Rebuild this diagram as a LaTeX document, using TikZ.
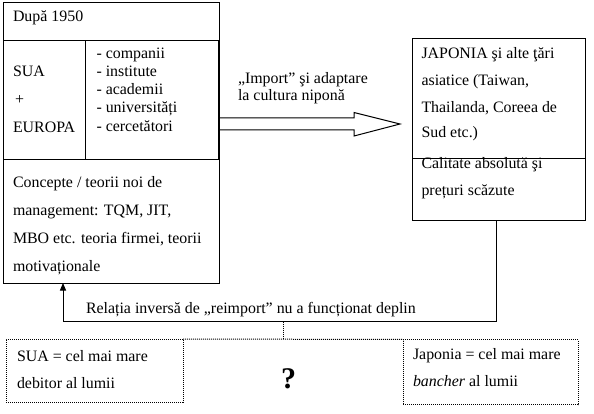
\documentclass[tikz,border=0pt]{standalone}
\usepackage{fontspec}
\setmainfont{Liberation Serif}
\usetikzlibrary{calc,arrows.meta}
\begin{document}
\begin{tikzpicture}[x=1pt,y=-1pt,
  txt/.style={anchor=base west,inner sep=0pt,outer sep=0pt,font=\fontsize{15.9}{18}\selectfont},
  frame/.style={draw,line width=1pt,inner sep=0pt,outer sep=0pt,anchor=north west},
  thickframe/.style={frame,line width=1.7pt},
  dotframe/.style={frame,dash pattern=on 1pt off 1pt},
  dotline/.style={line width=1pt,dash pattern=on 1pt off 1pt},
  thinline/.style={line width=1pt},
  qmark/.style={anchor=base,inner sep=0pt,font=\fontsize{30}{30}\selectfont\bfseries}
]
\useasboundingbox (0,0) rectangle (594,414);

% left block
\node[frame,minimum width=216,minimum height=280] (L) at (3,3) {};
\node[thickframe,minimum width=133.5,minimum height=119] (I) at (85.5,40.5) {};
\coordinate (d1a) at ($(L.north west)+(0,37.5)$);
\draw[thinline] (d1a) -- (I.north west);
\coordinate (d2a) at ($(L.north west)+(0,156.5)$);
\draw[thinline] (d2a) -- (I.south west);

\node[txt] (t0) at (13,22) {După 1950};
\node[txt] (t1) at (13,77) {SUA};
\node[txt] (t2) at (15,104.5) {+};
\node[txt] (t3) at (13,132.5) {EUROPA};
\node[txt] (l1) at (96.5,58.5) {- companii};
\node[txt] (l2) at (96.5,76.5) {- institute};
\node[txt] (l3) at (96.5,94.5) {- academii};
\node[txt] (l4) at (96.5,113) {- universități};
\node[txt] (l5) at (96.5,131.5) {- cercetători};
\node[txt] (c1) at (13,187.5) {Concepte / teorii noi de};
\node[txt] (c2) at (13,215.5) {management: TQM, JIT,};
\node[txt] (c3) at (13,243.5) {MBO etc. teoria firmei, teorii};
\node[txt] (c4) at (13,271) {motivaționale};

% right block
\node[frame,minimum width=173,minimum height=182] (R) at (412,38.5) {};
\coordinate (r1a) at ($(R.north west)+(0,120)$);
\coordinate (r1b) at ($(R.north east)+(0,120)$);
\draw[thinline] (r1a) -- (r1b);
\node[txt] (j1) at (421.5,59) {JAPONIA şi alte ţări};
\node[txt] (j2) at (421.5,86) {asiatice (Taiwan,};
\node[txt] (j3) at (421.5,113) {Thailanda, Coreea de};
\node[txt] (j4) at (421.5,138) {Sud etc.)};
\node[txt] (k1) at (421.5,169) {Calitate absolută şi};
\node[txt] (k2) at (421.5,195.5) {prețuri scăzute};

% big outline arrow
\coordinate (aS) at ($(I.north east)+(0,83.5)$);
\coordinate (aT) at ($(R.north west)+(-12,85.5)$);
\draw[thinline,line join=miter]
  ($(aS)+(0,-6)$) -- ($(aT)+(-46,-6)$) -- ($(aT)+(-46,-11.5)$) -- (aT)
  -- ($(aT)+(-46,12)$) -- ($(aT)+(-46,6)$) -- ($(aS)+(0,6)$);
\node[txt] (m1) at (238,84) {„Import” şi adaptare};
\node[txt] (m2) at (238,101) {la cultura niponă};

% feedback
\coordinate (fb1) at ($(R.south west)+(84,0)$);
\coordinate (fb2) at (496,321.5);
\coordinate (fb3) at (63,321.5);
\coordinate (fb4) at (63,283);
\draw[thinline,-{Triangle[length=7.5pt,width=6pt]}] (fb1) -- (fb2) -- (fb3) -- (fb4);
\node[txt] (fbl) at (86,313) {Relația inversă de „reimport” nu a funcționat deplin};

% bottom boxes
\node[dotframe,minimum width=177,minimum height=63] (D1) at (6,339) {};
\node[dotframe,minimum width=175,minimum height=65] (D2) at (403,339.5) {};
\draw[dotline] (D1.north east) -- (D2.north west);
\coordinate (q0) at (283,321.5);
\coordinate (q1) at (283,339);
\draw[dotline] (q0) -- (q1);
\node[txt] (s1) at (17,361.5) {SUA = cel mai mare};
\node[txt] (s2) at (17,388) {debitor al lumii};
\node[txt] (p1) at (413,359) {Japonia = cel mai mare};
\node[txt] (p2) at (413,386) {\textit{bancher} al lumii};
\node[qmark] (Q) at (288.5,388) {?};
\end{tikzpicture}
\end{document}
